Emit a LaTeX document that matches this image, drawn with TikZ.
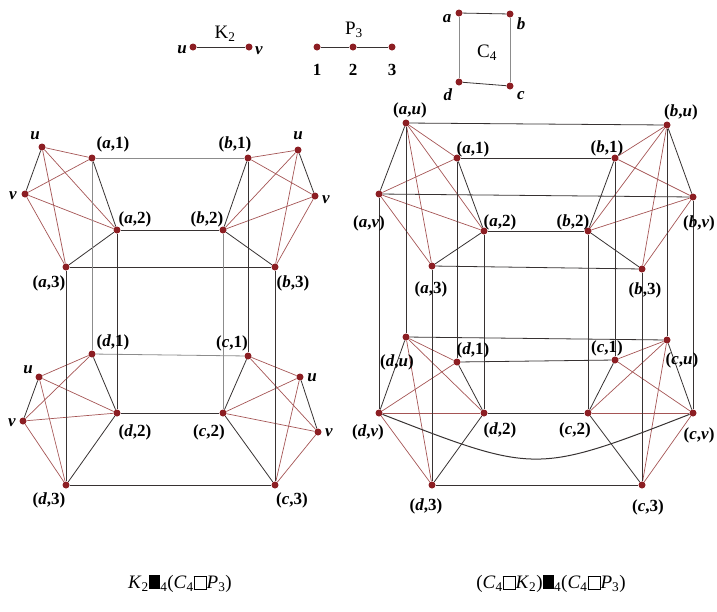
\documentclass[tikz,border=0pt]{standalone}
\usepackage{fontspec}
\setmainfont{Liberation Serif}
\pgfdeclarelayer{bg}\pgfsetlayers{bg,main}
\definecolor{dotred}{RGB}{140,30,35}
\definecolor{redge}{RGB}{165,85,85}
\definecolor{dedge}{RGB}{55,50,50}
\definecolor{gedge}{RGB}{140,140,140}
\newcommand\vl[2]{(\textit{#1},#2)}
\newcommand\bsq{\rule[-0.02em]{0.6em}{0.74em}}
\newcommand\wsq{{\setlength\fboxsep{0pt}\setlength\fboxrule{0.6pt}\fbox{\rule{0pt}{0.62em}\hspace{0.62em}}}}
\newcommand\cluster[5]{%
  \foreach \p in {#1,#2}{\foreach \q in {#3,#4,#5}{\draw[re] (\p)--(\q);}}%
  \draw[de] (#1)--(#2);
  \draw[de] (#3)--(#4);
  \draw[de] (#4)--(#5);}
\begin{document}
\begin{tikzpicture}[x=1pt,y=-1pt,
 vtx/.style={circle,fill=dotred,inner sep=0pt,minimum size=7pt},
 lbl/.style={inner sep=0pt,font=\fontsize{17}{17}\selectfont\bfseries},
 re/.style={draw=redge,line width=0.7pt},
 de/.style={draw=dedge,line width=0.8pt},
 ge/.style={draw=gedge,line width=0.8pt},
 ttl/.style={inner sep=0pt,font=\fontsize{19}{19}\selectfont},
 captxt/.style={inner sep=0pt,font=\fontsize{19}{19}\selectfont}]
\useasboundingbox (0,0) rectangle (717,611);
% ---------- small graphs ----------
\node[vtx] (ku) at (193,47) {};
\node[vtx] (kv) at (249,47) {};
\node[lbl] (tku) at (182,50) {\textit{u}};
\node[lbl] (tkv) at (259,51) {\textit{v}};
\node[ttl] (tK) at (225,34) {K\textsubscript{2}};
\node[vtx] (p1) at (317,47) {};
\node[vtx] (p2) at (353,47) {};
\node[vtx] (p3) at (392,47) {};
\node[lbl] (tp1) at (317,70) {1};
\node[lbl] (tp2) at (353,70) {2};
\node[lbl] (tp3) at (392,70) {3};
\node[ttl] (tP) at (354,30) {P\textsubscript{3}};
\node[vtx] (ca) at (459,13) {};
\node[vtx] (cb) at (510,14) {};
\node[vtx] (cc) at (510,86) {};
\node[vtx] (cd) at (459,82) {};
\node[lbl] (tca) at (447,19) {\textit{a}};
\node[lbl] (tcb) at (521,24) {\textit{b}};
\node[lbl] (tcc) at (521,96) {\textit{c}};
\node[lbl] (tcd) at (448,95) {\textit{d}};
\node[ttl] (tC) at (487,53) {C\textsubscript{4}};
% ---------- left graph ----------
\node[vtx] (LuA) at (42,147) {};
\node[vtx] (LvA) at (25,194) {};
\node[vtx] (La1) at (92,158) {};
\node[vtx] (La2) at (117,230) {};
\node[vtx] (La3) at (66,267) {};
\node[vtx] (LuB) at (298,150) {};
\node[vtx] (LvB) at (315,196) {};
\node[vtx] (Lb1) at (248,158) {};
\node[vtx] (Lb2) at (223,230) {};
\node[vtx] (Lb3) at (275,267) {};
\node[vtx] (LuD) at (39,377) {};
\node[vtx] (LvD) at (23,421) {};
\node[vtx] (Ld1) at (92,354) {};
\node[vtx] (Ld2) at (117,413) {};
\node[vtx] (Ld3) at (66,485) {};
\node[vtx] (LuC) at (300,377) {};
\node[vtx] (LvC) at (318,432) {};
\node[vtx] (Lc1) at (248,356) {};
\node[vtx] (Lc2) at (223,413) {};
\node[vtx] (Lc3) at (275,485) {};
\node[lbl] (tLuA) at (35,136) {\textit{u}};
\node[lbl] (tLvA) at (13,196) {\textit{v}};
\node[lbl] (tLa1) at (113,144) {\vl{a}{1}};
\node[lbl] (tLa2) at (135,219) {\vl{a}{2}};
\node[lbl] (tLa3) at (49,283) {\vl{a}{3}};
\node[lbl] (tLuB) at (298,136) {\textit{u}};
\node[lbl] (tLvB) at (326,200) {\textit{v}};
\node[lbl] (tLb1) at (235,144) {\vl{b}{1}};
\node[lbl] (tLb2) at (207,219) {\vl{b}{2}};
\node[lbl] (tLb3) at (293,283) {\vl{b}{3}};
\node[lbl] (tLuD) at (28,370) {\textit{u}};
\node[lbl] (tLvD) at (12,423) {\textit{v}};
\node[lbl] (tLd1) at (113,342) {\vl{d}{1}};
\node[lbl] (tLd2) at (135,432) {\vl{d}{2}};
\node[lbl] (tLd3) at (49,500) {\vl{d}{3}};
\node[lbl] (tLuC) at (312,378) {\textit{u}};
\node[lbl] (tLvC) at (329,433) {\textit{v}};
\node[lbl] (tLc1) at (232,343) {\vl{c}{1}};
\node[lbl] (tLc2) at (209,432) {\vl{c}{2}};
\node[lbl] (tLc3) at (292,500) {\vl{c}{3}};
% ---------- right graph ----------
\node[vtx] (Rau) at (406,123) {};
\node[vtx] (Rav) at (379,194) {};
\node[vtx] (Ra1) at (457,158) {};
\node[vtx] (Ra2) at (484,231) {};
\node[vtx] (Ra3) at (432,266) {};
\node[vtx] (Rbu) at (667,125) {};
\node[vtx] (Rbv) at (693,197) {};
\node[vtx] (Rb1) at (615,158) {};
\node[vtx] (Rb2) at (588,231) {};
\node[vtx] (Rb3) at (642,269) {};
\node[vtx] (Rdu) at (406,337) {};
\node[vtx] (Rdv) at (379,413) {};
\node[vtx] (Rd1) at (457,362) {};
\node[vtx] (Rd2) at (484,413) {};
\node[vtx] (Rd3) at (432,485) {};
\node[vtx] (Rcu) at (667,340) {};
\node[vtx] (Rcv) at (693,413) {};
\node[vtx] (Rc1) at (615,360) {};
\node[vtx] (Rc2) at (588,413) {};
\node[vtx] (Rc3) at (642,485) {};
\node[lbl] (tRau) at (410,110) {\vl{a}{\textit{u}}};
\node[lbl] (tRav) at (369,223) {\vl{a}{\textit{v}}};
\node[lbl] (tRa1) at (473,149) {\vl{a}{1}};
\node[lbl] (tRa2) at (500,222) {\vl{a}{2}};
\node[lbl] (tRa3) at (431,289) {\vl{a}{3}};
\node[lbl] (tRbu) at (681,112) {\vl{b}{\textit{u}}};
\node[lbl] (tRbv) at (699,223) {\vl{b}{\textit{v}}};
\node[lbl] (tRb1) at (607,148) {\vl{b}{1}};
\node[lbl] (tRb2) at (573,222) {\vl{b}{2}};
\node[lbl] (tRb3) at (645,290) {\vl{b}{3}};
\node[lbl] (tRdu) at (397,362) {\vl{d}{\textit{u}}};
\node[lbl] (tRdv) at (368,432) {\vl{d}{\textit{v}}};
\node[lbl] (tRd1) at (473,350) {\vl{d}{1}};
\node[lbl] (tRd2) at (500,430) {\vl{d}{2}};
\node[lbl] (tRd3) at (426,506) {\vl{d}{3}};
\node[lbl] (tRcu) at (682,360) {\vl{c}{\textit{u}}};
\node[lbl] (tRcv) at (699,435) {\vl{c}{\textit{v}}};
\node[lbl] (tRc1) at (607,348) {\vl{c}{1}};
\node[lbl] (tRc2) at (575,430) {\vl{c}{2}};
\node[lbl] (tRc3) at (648,507) {\vl{c}{3}};
% ---------- captions ----------
\node[captxt] (capL) at (180,584) {\textit{K}\textsubscript{2}\bsq\textsubscript{4}(\textit{C}\textsubscript{4}\wsq\textit{P}\textsubscript{3})};
\node[captxt] (capR) at (551,584) {(\textit{C}\textsubscript{4}\wsq\textit{K}\textsubscript{2})\bsq\textsubscript{4}(\textit{C}\textsubscript{4}\wsq\textit{P}\textsubscript{3})};
% ---------- edges ----------
\begin{pgfonlayer}{bg}
\draw[de] (ku)--(kv);
\draw[de] (p1)--(p2);
\draw[de] (p2)--(p3);
\draw[de] (ca)--(cb);
\draw[ge] (cb)--(cc);
\draw[de] (cc)--(cd);
\draw[ge] (cd)--(ca);
% left
\cluster{LuA}{LvA}{La1}{La2}{La3}
\cluster{LuB}{LvB}{Lb1}{Lb2}{Lb3}
\cluster{LuD}{LvD}{Ld1}{Ld2}{Ld3}
\cluster{LuC}{LvC}{Lc1}{Lc2}{Lc3}
\draw[ge] (La1)--(Lb1);
\draw[de] (La2)--(Lb2);
\draw[de] (La3)--(Lb3);
\draw[ge] (Ld1)--(Lc1);
\draw[de] (Ld2)--(Lc2);
\draw[de] (Ld3)--(Lc3);
\draw[ge] (La1)--(Ld1);
\draw[de] (La2)--(Ld2);
\draw[de] (La3)--(Ld3);
\draw[de] (Lb1)--(Lc1);
\draw[ge] (Lb2)--(Lc2);
\draw[de] (Lb3)--(Lc3);
% right
\cluster{Rau}{Rav}{Ra1}{Ra2}{Ra3}
\cluster{Rbu}{Rbv}{Rb1}{Rb2}{Rb3}
\cluster{Rdu}{Rdv}{Rd1}{Rd2}{Rd3}
\cluster{Rcu}{Rcv}{Rc1}{Rc2}{Rc3}
\draw[de] (Rau)--(Rbu);
\draw[de] (Ra1)--(Rb1);
\draw[de] (Rav)--(Rbv);
\draw[de] (Ra2)--(Rb2);
\draw[de] (Ra3)--(Rb3);
\draw[de] (Rdu)--(Rcu);
\draw[de] (Rd1)--(Rc1);
\draw[de] (Rd2)--(Rc2);
\draw[de] (Rd3)--(Rc3);
\draw[de,line width=1pt] (Rdv) .. controls (536,474) .. (Rcv);
\draw[de] (Rau)--(Rdu);
\draw[de] (Rav)--(Rdv);
\draw[de] (Ra1)--(Rd1);
\draw[de] (Ra2)--(Rd2);
\draw[de] (Ra3)--(Rd3);
\draw[de] (Rbu)--(Rcu);
\draw[de] (Rbv)--(Rcv);
\draw[de] (Rb1)--(Rc1);
\draw[de] (Rb2)--(Rc2);
\draw[de] (Rb3)--(Rc3);
\end{pgfonlayer}
\end{tikzpicture}
\end{document}
